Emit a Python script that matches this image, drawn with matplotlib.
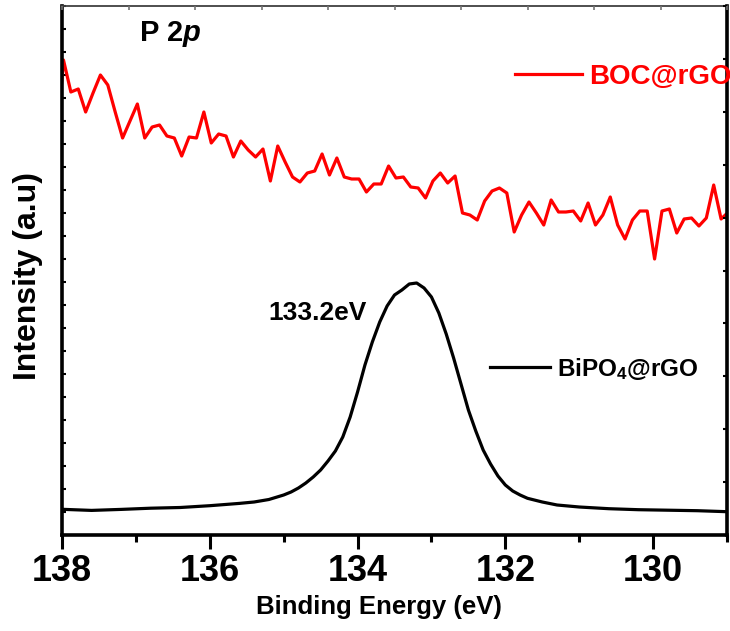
import numpy as np
import matplotlib
matplotlib.use("Agg")
import matplotlib.pyplot as plt

plt.rcParams['font.family'] = ['Liberation Sans', 'DejaVu Sans']
plt.rcParams['font.weight'] = 'bold'
plt.rcParams['mathtext.fontset'] = 'custom'
plt.rcParams['mathtext.rm'] = 'Liberation Sans:bold'
plt.rcParams['mathtext.bf'] = 'Liberation Sans:bold'
plt.rcParams['mathtext.default'] = 'bf'

# BOC@rGO, P 2p region (binding energy in eV, counts in a.u.)
boc_be = np.round(138.08 - 0.1 * np.arange(92), 2)
boc_int = [386, 475, 443, 446, 423, 442, 460, 450, 423, 397,
           414, 431, 397, 408, 410, 399, 397, 379, 398, 397,
           423, 392, 401, 399, 378, 394, 385, 378, 386, 354,
           389, 373, 358, 353, 362, 364, 381, 360, 377, 358,
           356, 356, 343, 351, 351, 369, 357, 358, 348, 347,
           337, 354, 362, 352, 359, 322, 320, 315, 334, 344,
           347, 342, 303, 320, 333, 322, 310, 335, 323, 323,
           324, 314, 332, 310, 320, 338, 310, 296, 315, 324,
           324, 276, 324, 326, 302, 316, 317, 309, 317, 350,
           316, 323]

# BiPO4@rGO, P 2p region
bpo_be = [138.0, 137.6, 137.2, 136.8, 136.4, 136.0, 135.6, 135.4, 135.2, 135.0,
          134.9, 134.8, 134.7, 134.6, 134.5, 134.4, 134.3, 134.2, 134.1, 134.0,
          133.9, 133.8, 133.7, 133.6, 133.5, 133.4, 133.3, 133.2, 133.1, 133.0,
          132.9, 132.8, 132.7, 132.6, 132.5, 132.4, 132.3, 132.2, 132.1, 132.0,
          131.9, 131.8, 131.7, 131.5, 131.3, 131.0, 130.6, 130.2, 129.8, 129.4,
          129.0]
bpo_int = [25.7, 24.6, 25.6, 26.8, 27.5, 29.3, 31.6, 33.0, 35.5, 40,
           43, 47, 52, 58, 65, 74, 84, 98, 118, 143,
           170, 193, 213, 229, 240, 245, 251, 252, 247, 238,
           222, 201, 177, 151, 125, 104, 85, 71, 59, 50,
           44, 40, 36.7, 33, 30, 28, 26.3, 25.3, 24.8, 24.3,
           23.3]

peak_be = 133.2

fig = plt.figure(figsize=(7.3, 6.31), dpi=100)
ax = fig.add_axes([62 / 730, 96 / 631, 665 / 730, 529 / 631])

red_ln, = ax.plot(boc_be, boc_int, color='#ff0000', lw=2.3)
blk_ln, = ax.plot(bpo_be, bpo_int, color='black', lw=2.3)

ax.set_xlim(138, 129)
ax.set_ylim(0, 529)

# bottom axis: major every 2 eV, minor in between
ax.set_xticks([138, 136, 134, 132, 130])
ax.set_xticks([137, 135, 133, 131, 129], minor=True)
ax.tick_params(axis='x', which='major', direction='out', length=10, width=2.2,
               labelsize=26, pad=4)
ax.tick_params(axis='x', which='minor', direction='out', length=5, width=2.2)
for lbl in ax.get_xticklabels():
    lbl.set_fontweight('bold')

# left axis: small inward ticks, no labels
ax.set_yticks(np.linspace(0, 529, 24))
ax.tick_params(axis='y', direction='in', length=3, width=1.5, labelleft=False)

for side in ['left', 'bottom', 'right']:
    ax.spines[side].set_linewidth(2.6)
ax.spines['top'].set_linewidth(1.3)
ax.spines['top'].set_color('0.25')

# right and top frame ticks
axr = ax.twinx()
axr.set_ylim(0, 10)
axr.set_yticks(np.arange(11))
axr.tick_params(axis='y', direction='in', length=3, width=1.5, labelright=False)
axt = ax.twiny()
axt.set_xlim(0, 10)
axt.set_xticks(np.arange(11))
axt.tick_params(axis='x', direction='in', length=3, width=1.2, color='0.45',
                labeltop=False)
for a in (axr, axt):
    for s in a.spines.values():
        s.set_visible(False)

ax.set_xlabel('Binding Energy (eV)', fontsize=18.5, fontweight='bold', va='center')
ax.xaxis.set_label_coords(0.477, -0.136)
ax.set_ylabel('Intensity (a.u)', fontsize=23, fontweight='bold', va='center')
ax.yaxis.set_label_coords(-0.051, 0.49)

t1 = ax.text(0.117, 0.949, 'P 2', transform=ax.transAxes, fontsize=21,
             fontweight='bold', ha='left', va='center')
ax.annotate('p', xy=(1, 0), xycoords=t1, ha='left', va='bottom', fontsize=21,
            fontweight='bold', fontstyle='italic')

ax.text(134.54, 222, f'{peak_be}eV', fontsize=19, fontweight='bold',
        ha='center', va='center')

leg1 = ax.legend([red_ln], ['BOC@rGO'], loc='center left',
                 bbox_to_anchor=(0.681, 0.866), frameon=False, borderpad=0,
                 borderaxespad=0, handlelength=2.4, handletextpad=0.27,
                 labelcolor='#ff0000', prop={'size': 20, 'weight': 'bold'})
ax.add_artist(leg1)
ax.legend([blk_ln], [r'BiPO$_4$@rGO'], loc='center left',
          bbox_to_anchor=(0.644, 0.314), frameon=False, borderpad=0,
          borderaxespad=0, handlelength=2.45, handletextpad=0.3,
          prop={'size': 17.5, 'weight': 'bold'})

fig.savefig('out.png', dpi=100)
